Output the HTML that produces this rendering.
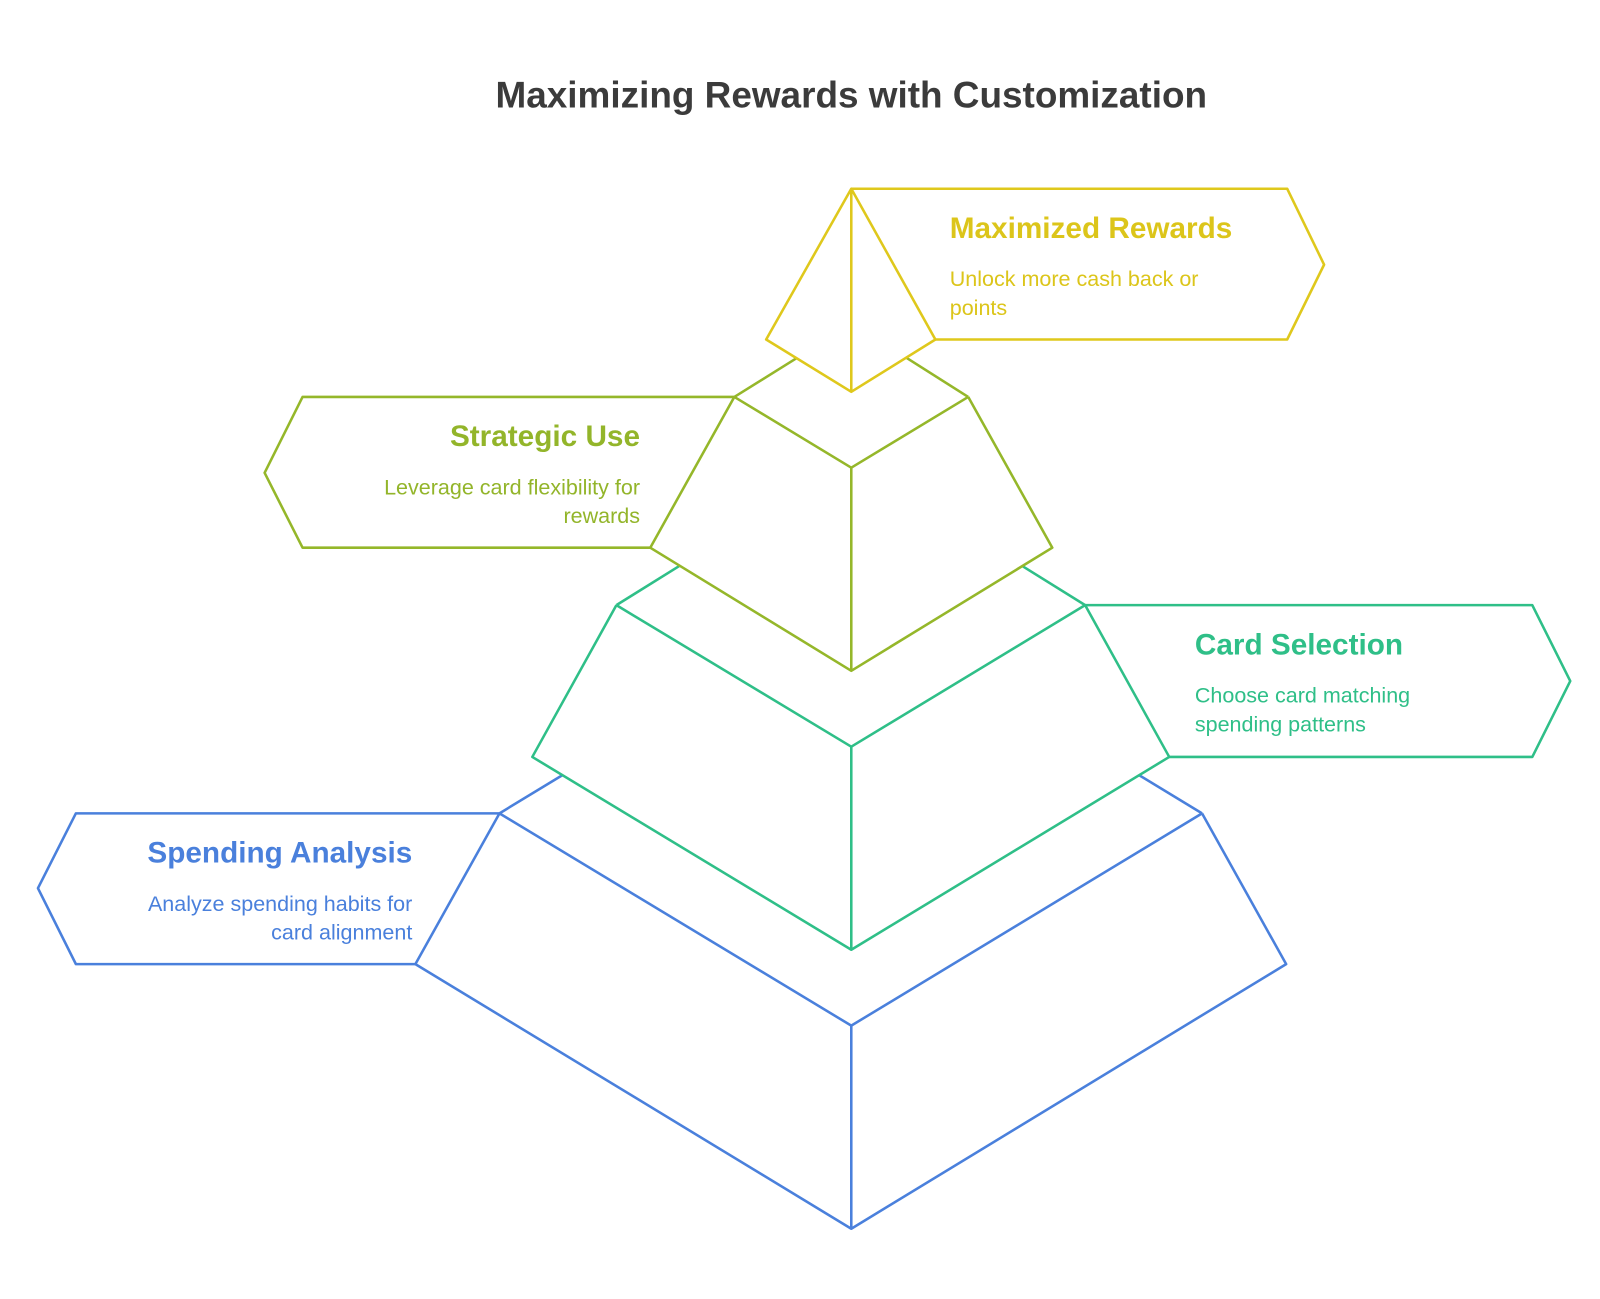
<!DOCTYPE html>
<html><head><meta charset="utf-8"><style>
html,body{margin:0;padding:0;background:#fff;}
svg{display:block;}
text{font-family:"Liberation Sans",sans-serif;}
</style></head><body>
<svg width="1600" height="1299" viewBox="0 0 1560 1266.5" xmlns="http://www.w3.org/2000/svg">
<text x="830" y="105" text-anchor="middle" font-size="36" font-weight="bold" fill="#3b3b3b">Maximizing Rewards with Customization</text>
<g fill="none" stroke-width="2.5" stroke-linejoin="round">
<!-- blue -->
<g stroke="#4a80dc">
<polyline points="487,793 830,1000 1172,793"/>
<polyline points="487,793 405,940 830,1198 1254,940 1172,793"/>
<line x1="487" y1="793" x2="548" y2="756"/>
<line x1="1172" y1="793" x2="1111" y2="756"/>
<line x1="830" y1="1000" x2="830" y2="1198"/>
<polyline points="487,793 74,793 37,866 74,940 405,940"/>
</g>
<!-- green -->
<g stroke="#2fbf88">
<polyline points="601,590 830,728 1058,590"/>
<polyline points="601,590 519,738 830,926 1140,738 1058,590"/>
<line x1="601" y1="590" x2="662" y2="552"/>
<line x1="1058" y1="590" x2="997" y2="552"/>
<line x1="830" y1="728" x2="830" y2="926"/>
<polyline points="1058,590 1494,590 1531,664 1494,738 1140,738"/>
</g>
<!-- olive -->
<g stroke="#95b72a">
<polyline points="716,387 830,456 944,387"/>
<polyline points="716,387 634,534 830,654 1026,534 944,387"/>
<line x1="716" y1="387" x2="777" y2="349"/>
<line x1="944" y1="387" x2="884" y2="349"/>
<line x1="830" y1="456" x2="830" y2="654"/>
<polyline points="716,387 295,387 258,461 295,534 634,534"/>
</g>
<!-- yellow -->
<g stroke="#dfc81c">
<polygon points="830,184 747,331 830,382 912,331"/>
<line x1="830" y1="184" x2="830" y2="382"/>
<polyline points="830,184 1255,184 1291,258 1255,331 912,331"/>
</g>
</g>
<g font-size="21">
<text x="926" y="232" font-size="29" font-weight="bold" fill="#dcc51a">Maximized Rewards</text>
<text x="926" y="279" fill="#dcc51a">Unlock more cash back or</text>
<text x="926" y="307" fill="#dcc51a">points</text>

<text x="624" y="435" text-anchor="end" font-size="29" font-weight="bold" fill="#93b52a">Strategic Use</text>
<text x="624" y="482" text-anchor="end" fill="#93b52a">Leverage card flexibility for</text>
<text x="624" y="510" text-anchor="end" fill="#93b52a">rewards</text>

<text x="1165" y="638" font-size="29" font-weight="bold" fill="#2fbf88">Card Selection</text>
<text x="1165" y="685" fill="#2fbf88">Choose card matching</text>
<text x="1165" y="713" fill="#2fbf88">spending patterns</text>

<text x="402" y="841" text-anchor="end" font-size="29" font-weight="bold" fill="#4a80dc">Spending Analysis</text>
<text x="402" y="888" text-anchor="end" fill="#4a80dc">Analyze spending habits for</text>
<text x="402" y="916" text-anchor="end" fill="#4a80dc">card alignment</text>
</g>
</svg>
</body></html>
